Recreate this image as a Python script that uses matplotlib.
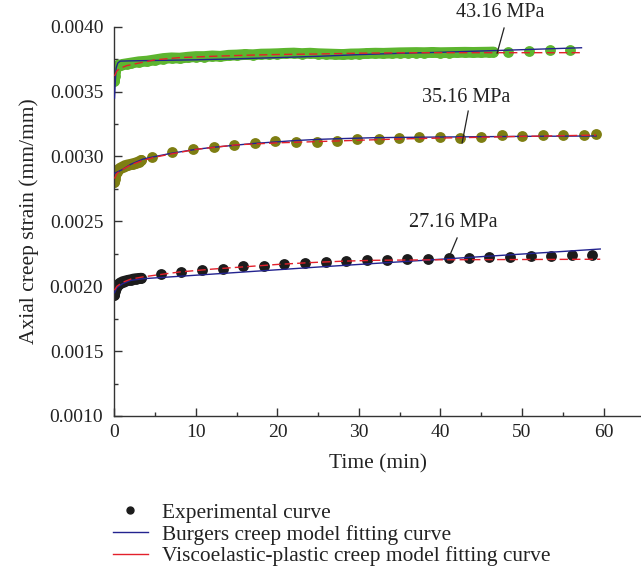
import numpy as np
import matplotlib
matplotlib.use('Agg')
import matplotlib.pyplot as plt
from matplotlib.lines import Line2D

plt.rcParams['font.family'] = ['Liberation Serif', 'DejaVu Serif']

# experimental data (time in min, strain in mm/mm)
t_4316 = [0, 0.03, 0.06, 0.1, 0.15, 0.2, 0.3, 0.4, 0.5, 0.75, 1.0, 1.5, 2.0,
          3, 4, 5, 6, 7, 8, 9, 10, 11, 12, 13, 14, 15, 16, 17, 18, 19, 20,
          21, 22, 23, 24, 25, 26, 27, 28, 29, 30, 31, 32, 33, 34, 35, 36,
          37, 38, 39, 40, 41, 42, 43, 44, 45, 46, 46.5,
          48.3, 50.8, 53.4, 55.9]
e_4316 = [0.00358, 0.00362, 0.00365, 0.00367, 0.00368, 0.00369, 0.003695, 0.0037, 0.003705, 0.003705, 0.00371, 0.003715, 0.00372,
          0.00373, 0.003735, 0.003745, 0.003755, 0.00376, 0.003758, 0.003765, 0.00377, 0.00377, 0.003775, 0.003772, 0.00378, 0.003782, 0.003786, 0.003784, 0.003789, 0.00379, 0.003792,
          0.003795, 0.003797, 0.003793, 0.003796, 0.003792, 0.00379, 0.003788, 0.003786, 0.00379, 0.003791, 0.003794, 0.003796, 0.003795, 0.003797, 0.003799, 0.0038,
          0.003801, 0.0038, 0.003802, 0.0038, 0.003801, 0.003802, 0.003803, 0.003802, 0.003803, 0.003804, 0.003805,
          0.003803, 0.003815, 0.00382, 0.00382]
n_dense_4316 = 58   # continuous record up to 46.5 min

t_3516 = [0, 0.02, 0.05, 0.1, 0.2, 0.3, 0.5, 0.7, 1.0, 1.3, 1.6, 2.0, 2.3, 2.6, 3.0, 3.3,
          4.57, 7.1, 9.67, 12.2, 14.7, 17.2, 19.7, 22.3, 24.8, 27.3, 29.8, 32.4,
          34.9, 37.4, 39.95, 42.4, 45.0, 47.5, 50.05, 52.56, 55.0, 57.6, 59.1]
e_3516 = [0.0028, 0.00283, 0.00285, 0.00286, 0.00287, 0.00288, 0.0029, 0.00291, 0.00292, 0.00293, 0.002935, 0.00294, 0.002945, 0.00295, 0.00296, 0.00297,
          0.002994, 0.003037, 0.003058, 0.003075, 0.003091, 0.003102, 0.003119, 0.003109, 0.003109, 0.003122, 0.003133, 0.003133,
          0.003145, 0.003153, 0.003153, 0.00314, 0.003153, 0.003163, 0.003158, 0.003163, 0.003163, 0.003166, 0.003171]
n_dense_3516 = 16

t_2716 = [0, 0.05, 0.1, 0.2, 0.3, 0.5, 0.7, 1.0, 1.3, 1.6, 2.0, 2.3, 2.6, 3.0, 3.3,
          5.67, 8.16, 10.7, 13.3, 15.8, 18.3, 20.8, 23.4, 25.9, 28.4, 31.0,
          33.4, 35.9, 38.5, 41.0, 43.5, 46.0, 48.5, 51.1, 53.6, 56.1, 58.6]
e_2716 = [0.00193, 0.00196, 0.00198, 0.00199, 0.002, 0.002015, 0.002025, 0.002035, 0.00204, 0.002045, 0.00205, 0.002055, 0.002058, 0.00206, 0.002062,
          0.002095, 0.002108, 0.002126, 0.002131, 0.002156, 0.002156, 0.002172, 0.002182, 0.002189, 0.002197, 0.002203,
          0.002203, 0.002208, 0.002213, 0.00222, 0.00222, 0.002226, 0.002228, 0.002233, 0.002233, 0.002239, 0.002241]
n_dense_2716 = 15

# Burgers model fits
bt_4316 = [0, 0.1, 0.2, 0.4, 0.7, 2, 5, 10, 15, 20, 25, 30, 35, 40, 46, 50, 57.3]
be_4316 = [0.00345, 0.00358, 0.00368, 0.00372, 0.003735, 0.003737, 0.00374, 0.003745, 0.003753,
           0.003762, 0.003772, 0.003785, 0.003795, 0.003803, 0.003815, 0.003823, 0.003838]
bt_3516 = [0, 1, 2, 3.5, 5, 7, 10, 12, 15, 17, 20, 22, 25, 28, 32, 40, 50, 59.1]
be_3516 = [0.00287, 0.0029, 0.00294, 0.00298, 0.003, 0.003025, 0.003055, 0.00307, 0.003088,
           0.0031, 0.003113, 0.003122, 0.003132, 0.003138, 0.003145, 0.00315, 0.003155, 0.003158]
bt_2716 = [0, 0.3, 1, 2, 3.5, 10, 15, 20, 25, 30, 35, 40, 45, 50, 55, 59.6]
be_2716 = [0.00195, 0.00199, 0.00202, 0.002045, 0.002058, 0.002085, 0.002106, 0.002127, 0.002148,
           0.002168, 0.002188, 0.002208, 0.002228, 0.002248, 0.002268, 0.002287]

# viscoelastic-plastic model fits
vt_4316 = [0, 0.3, 0.7, 1.5, 3, 5, 8, 12, 16, 20, 25, 30, 35, 40, 50, 57.3]
ve_4316 = [0.00362, 0.00366, 0.00368, 0.0037, 0.00372, 0.003745, 0.003762, 0.003772, 0.00378,
           0.003786, 0.00379, 0.003796, 0.003799, 0.0038, 0.0038, 0.0038]
vt_3516 = [0, 0.3, 1, 2, 3.5, 5, 7, 10, 15, 20, 25, 30, 35, 40, 45, 50, 55, 59.1]
ve_3516 = [0.00283, 0.00287, 0.0029, 0.002935, 0.00297, 0.002995, 0.00302, 0.003055, 0.00309,
           0.003105, 0.003115, 0.003125, 0.003135, 0.003142, 0.003148, 0.003155, 0.00316, 0.003165]
vt_2716 = [0, 0.3, 1, 2, 3.5, 5, 8, 12, 16, 20, 24, 28, 32, 40, 50, 59.6]
ve_2716 = [0.00197, 0.002, 0.00203, 0.002055, 0.002072, 0.002085, 0.00211, 0.002132, 0.00215,
           0.002168, 0.002182, 0.002193, 0.0022, 0.002204, 0.002206, 0.002208]

labels = ['43.16 MPa', '35.16 MPa', '27.16 MPa']

GREEN = '#5db52f'
OLIVE = '#7e7e12'
BLACK = '#1c1c1c'
NAVY = '#23238f'
RED = '#e3202b'


def main():
    fig = plt.figure(figsize=(6.41, 5.76), dpi=100)
    ax = fig.add_axes([0.1786, 0.2778, 0.8214, 0.6758])

    ms = 7.8
    series = [(t_4316, e_4316, n_dense_4316, GREEN),
              (t_3516, e_3516, n_dense_3516, OLIVE),
              (t_2716, e_2716, n_dense_2716, BLACK)]
    for t, e, nd, c in series:
        # densely sampled part merges into a continuous band
        ax.plot(t[:nd], e[:nd], '-', color=c, lw=ms, solid_capstyle='round',
                solid_joinstyle='round', zorder=2)
        ax.plot(t, e, 'o', color=c, ms=ms, mec='none', zorder=2)

    for bt, be in [(bt_4316, be_4316), (bt_3516, be_3516), (bt_2716, be_2716)]:
        ax.plot(bt, be, '-', color=NAVY, lw=1.0, zorder=3)
    for vt, ve in [(vt_4316, ve_4316), (vt_3516, ve_3516), (vt_2716, ve_2716)]:
        ax.plot(vt, ve, '--', color=RED, lw=1.0, dashes=(6, 3), zorder=4)

    # stress labels with leader lines
    ann = [(labels[0], (47.3, 0.004106), (47.8, 0.00399), (46.95, 0.003797)),
           (labels[1], (43.1, 0.003458), (43.4, 0.00335), (42.65, 0.003104)),
           (labels[2], (41.55, 0.002488), (42.04, 0.002372), (41.06, 0.002226))]
    for txt, tpos, p0, p1 in ann:
        ax.text(tpos[0], tpos[1], txt, ha='center', va='center', fontsize=14.5,
                color='#222222', clip_on=False)
        ax.plot([p0[0], p1[0]], [p0[1], p1[1]], color='#222222', lw=0.9,
                zorder=5, clip_on=False)

    ax.set_xlim(0, 64.6)
    ax.set_ylim(0.0010, 0.0040)
    ax.set_xticks([0, 10, 20, 30, 40, 50, 60])
    ax.set_xticks([5, 15, 25, 35, 45, 55], minor=True)
    ax.set_yticks([0.0010, 0.0015, 0.0020, 0.0025, 0.0030, 0.0035, 0.0040])
    ax.set_yticks([0.00125, 0.00175, 0.00225, 0.00275, 0.00325, 0.00375], minor=True)
    ax.yaxis.set_major_formatter(matplotlib.ticker.FormatStrFormatter('%.4f'))

    for s in ['top', 'right']:
        ax.spines[s].set_visible(False)
    for s in ['left', 'bottom']:
        ax.spines[s].set_color('#333333')
        ax.spines[s].set_linewidth(1.0)
    ax.tick_params(which='both', direction='in', color='#333333', width=1.0,
                   labelsize=14, labelcolor='#222222')
    ax.tick_params(which='major', length=6)
    ax.tick_params(which='minor', length=3)
    ax.tick_params(axis='x', pad=6)
    ax.tick_params(axis='y', pad=8)

    ax.set_xlabel('Time (min)', fontsize=15.5, color='#222222', labelpad=9)
    ax.set_ylabel('Axial creep strain (mm/mm)', fontsize=15.5, color='#222222', labelpad=8)

    handles = [Line2D([], [], ls='none', marker='o', color=BLACK, ms=5),
               Line2D([], [], color=NAVY, lw=1.0),
               Line2D([], [], color=RED, lw=1.0)]
    names = ['Experimental curve', 'Burgers creep model fitting curve',
             'Viscoelastic-plastic creep model fitting curve']
    fig.legend(handles, names, loc='upper left', bbox_to_anchor=(0.176, 0.127),
               frameon=False, fontsize=15.4, handlelength=1.64, handletextpad=0.65,
               labelspacing=0.08, borderaxespad=0, borderpad=0,
               labelcolor='#222222')

    fig.savefig('out.png', dpi=100)


if __name__ == '__main__':
    main()
